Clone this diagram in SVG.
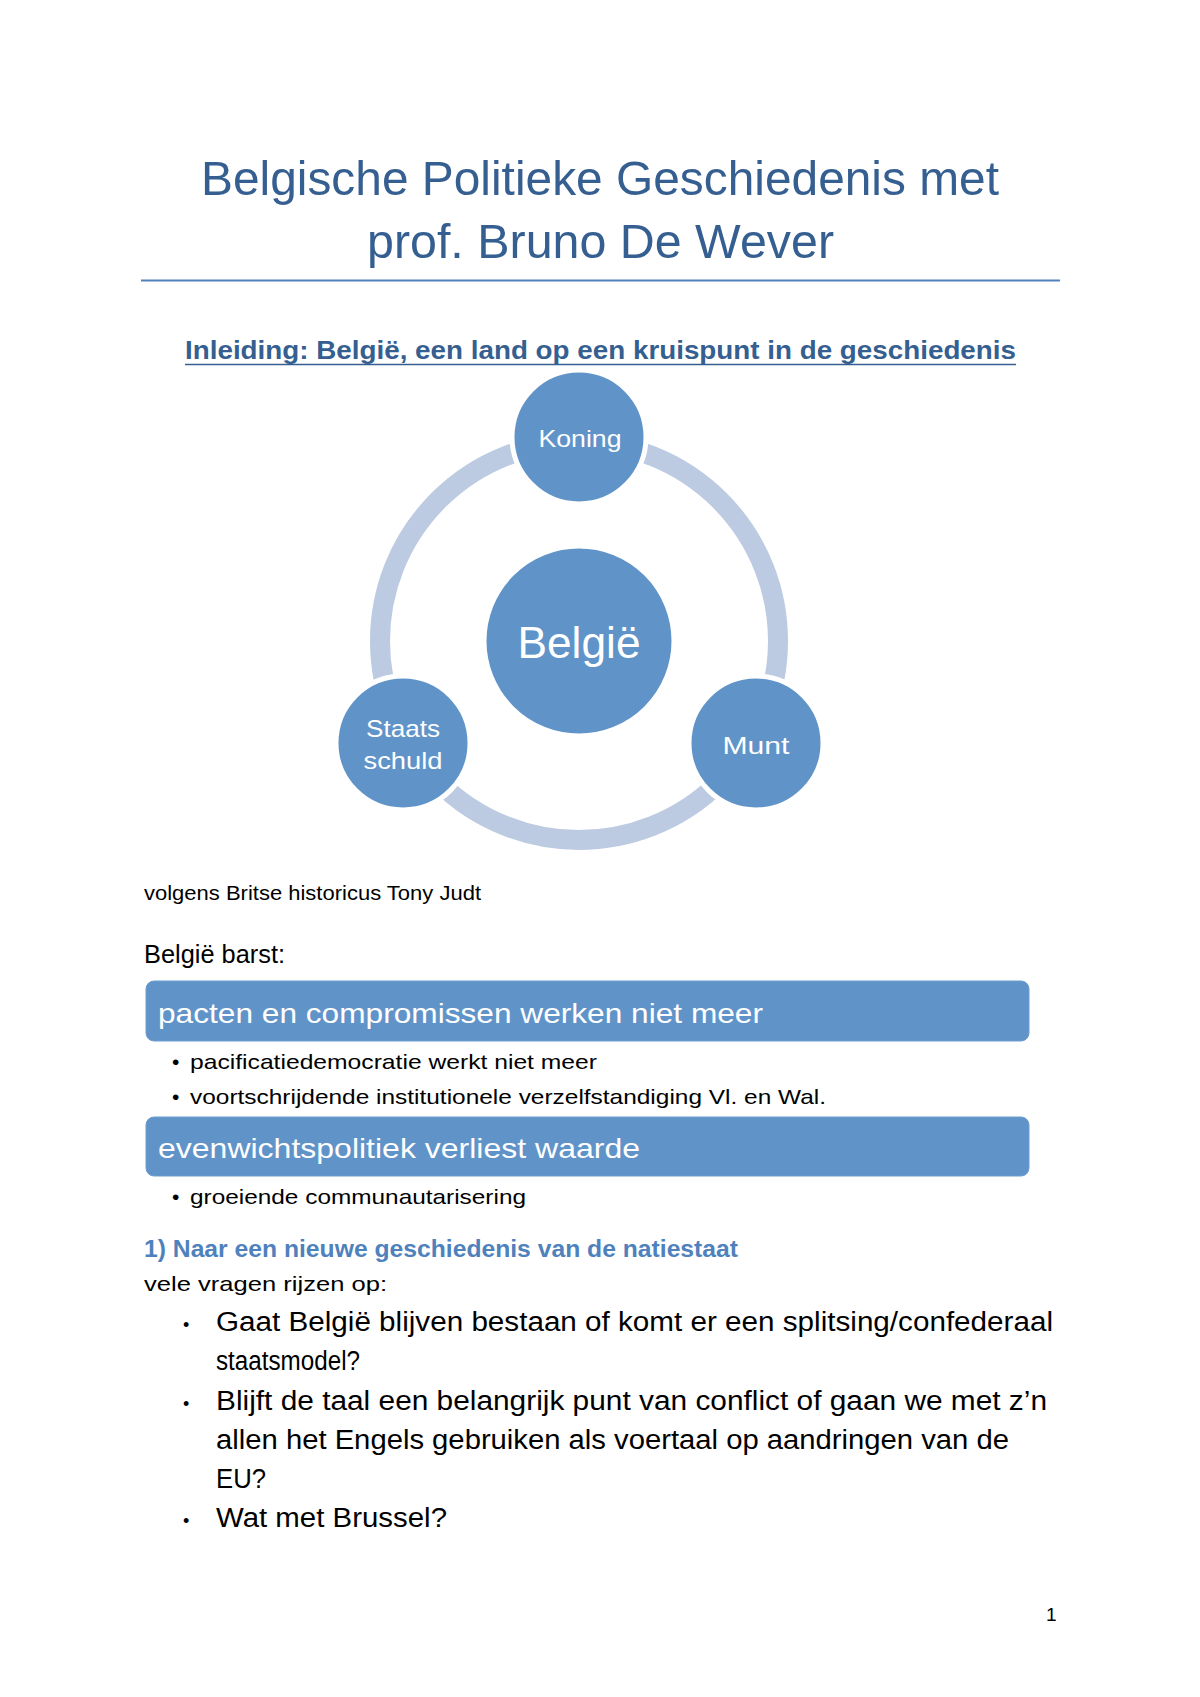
<svg xmlns="http://www.w3.org/2000/svg" width="1200" height="1697" viewBox="0 0 1200 1697">
<style>
text{font-family:"Liberation Sans",Arial,sans-serif;}
.title{font-size:49px;fill:#365f91;}
.h1{font-size:26px;font-weight:bold;fill:#365f91;}
.h2{font-size:23px;font-weight:bold;fill:#4f81bd;}
.body{font-size:21px;fill:#000;}
.big{font-size:25px;fill:#000;}
.circ{fill:#6094c9;stroke:#fff;stroke-width:5;}
.ctext{fill:#fff;font-size:24px;text-anchor:middle;}
.box{fill:#6094c9;stroke:#6f9dd0;stroke-width:1;}
.btext{fill:#fff;font-size:28px;}
.sbul{font-size:21px;fill:#000;}
.q{font-size:27px;fill:#000;}
.qb{font-size:18px;fill:#000;}
</style>
<rect width="1200" height="1697" fill="#fff"/>
<g id="title">
<text class="title" x="201" y="195" textLength="798" lengthAdjust="spacingAndGlyphs">Belgische Politieke Geschiedenis met</text>
<text class="title" x="367" y="258" textLength="467" lengthAdjust="spacingAndGlyphs">prof. Bruno De Wever</text>
<line x1="141" y1="280.5" x2="1060" y2="280.5" stroke="#4f81bd" stroke-width="2"/>
</g>
<g id="heading1">
<text class="h1" x="185" y="359" textLength="831" lengthAdjust="spacingAndGlyphs">Inleiding: België, een land op een kruispunt in de geschiedenis</text>
<line x1="185" y1="364.5" x2="1016" y2="364.5" stroke="#365f91" stroke-width="1.5"/>
</g>
<g id="connectors">
<circle cx="579" cy="641" r="199" fill="none" stroke="#bccbe1" stroke-width="20"/>
</g>
<g id="node-belgie">
<circle class="circ" cx="579" cy="641" r="95"/>
<text class="ctext" x="579" y="658" style="font-size:44px" textLength="123" lengthAdjust="spacingAndGlyphs">België</text>
</g>
<g id="node-koning">
<circle class="circ" cx="579" cy="437" r="67"/>
<text class="ctext" x="580" y="447" textLength="83" lengthAdjust="spacingAndGlyphs">Koning</text>
</g>
<g id="node-munt">
<circle class="circ" cx="756" cy="743" r="67"/>
<text class="ctext" x="756" y="754" textLength="67" lengthAdjust="spacingAndGlyphs">Munt</text>
</g>
<g id="node-staatsschuld">
<circle class="circ" cx="403" cy="743" r="67"/>
<text class="ctext" x="403" y="737" textLength="74" lengthAdjust="spacingAndGlyphs">Staats</text>
<text class="ctext" x="403" y="769" textLength="79" lengthAdjust="spacingAndGlyphs">schuld</text>
</g>
<g id="intro">
<text class="body" x="144" y="900" textLength="337" lengthAdjust="spacingAndGlyphs">volgens Britse historicus Tony Judt</text>
<text class="big" x="144" y="963" textLength="141" lengthAdjust="spacingAndGlyphs">België barst:</text>
</g>
<g id="box1">
<rect class="box" x="146" y="981" width="883" height="60" rx="8"/>
<text class="btext" x="158" y="1023" textLength="605" lengthAdjust="spacingAndGlyphs">pacten en compromissen werken niet meer</text>
</g>
<g id="box1-bullets">
<text class="sbul" x="172" y="1069">•</text>
<text class="sbul" x="190" y="1069" textLength="407" lengthAdjust="spacingAndGlyphs">pacificatiedemocratie werkt niet meer</text>
<text class="sbul" x="172" y="1104">•</text>
<text class="sbul" x="190" y="1104" textLength="636" lengthAdjust="spacingAndGlyphs">voortschrijdende institutionele verzelfstandiging Vl. en Wal.</text>
</g>
<g id="box2">
<rect class="box" x="146" y="1117" width="883" height="59" rx="8"/>
<text class="btext" x="158" y="1158" textLength="482" lengthAdjust="spacingAndGlyphs">evenwichtspolitiek verliest waarde</text>
</g>
<g id="box2-bullets">
<text class="sbul" x="172" y="1204">•</text>
<text class="sbul" x="190" y="1204" textLength="336" lengthAdjust="spacingAndGlyphs">groeiende communautarisering</text>
</g>
<g id="section1">
<text class="h2" x="144" y="1257" textLength="594" lengthAdjust="spacingAndGlyphs">1) Naar een nieuwe geschiedenis van de natiestaat</text>
<text class="body" x="144" y="1291" textLength="243" lengthAdjust="spacingAndGlyphs">vele vragen rijzen op:</text>
<text class="qb" x="183" y="1331">•</text>
<text class="q" x="216" y="1331" textLength="837" lengthAdjust="spacingAndGlyphs">Gaat België blijven bestaan of komt er een splitsing/confederaal</text>
<text class="q" x="216" y="1370" textLength="144" lengthAdjust="spacingAndGlyphs">staatsmodel?</text>
<text class="qb" x="183" y="1410">•</text>
<text class="q" x="216" y="1410" textLength="831" lengthAdjust="spacingAndGlyphs">Blijft de taal een belangrijk punt van conflict of gaan we met z’n</text>
<text class="q" x="216" y="1449" textLength="793" lengthAdjust="spacingAndGlyphs">allen het Engels gebruiken als voertaal op aandringen van de</text>
<text class="q" x="216" y="1488" textLength="50" lengthAdjust="spacingAndGlyphs">EU?</text>
<text class="qb" x="183" y="1527">•</text>
<text class="q" x="216" y="1527" textLength="231" lengthAdjust="spacingAndGlyphs">Wat met Brussel?</text>
</g>
<g id="page-number">
<text x="1046" y="1621" style="font-size:19px">1</text>
</g>
</svg>
